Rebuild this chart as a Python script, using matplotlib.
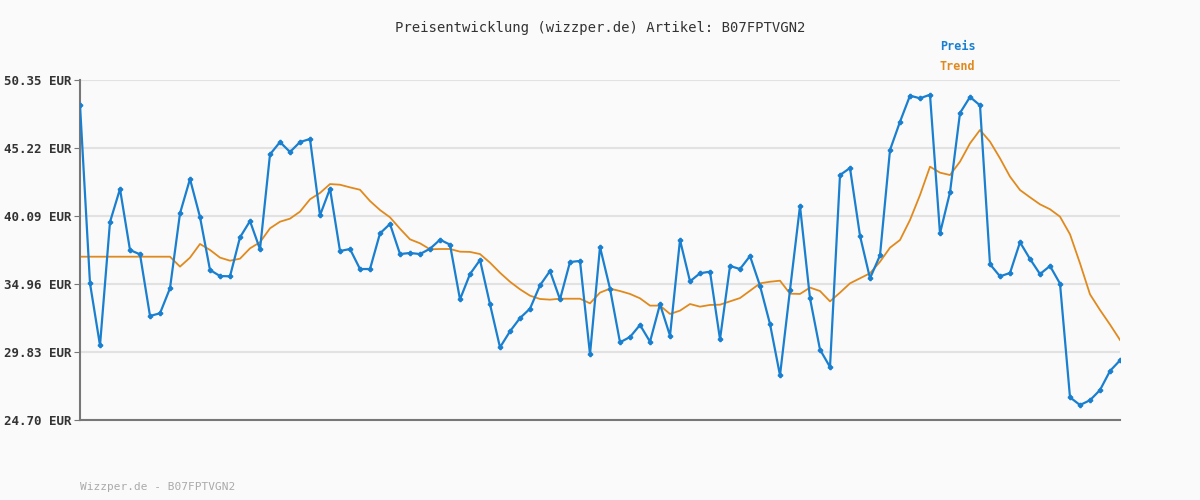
import matplotlib
matplotlib.use("Agg")
import matplotlib.pyplot as plt
import numpy as np

preis = [48.46,35.01,30.33,39.64,42.13,37.52,37.20,32.55,32.75,34.64,40.29,42.88,40.01,36.02,35.56,35.54,
         38.48,39.71,37.58,44.74,45.67,44.92,45.67,45.90,40.14,42.15,37.45,37.60,36.09,36.09,38.78,39.49,
         37.22,37.30,37.22,37.62,38.30,37.93,33.80,35.71,36.77,33.43,30.18,31.39,32.39,33.10,34.86,35.94,
         33.80,36.62,36.70,29.66,37.75,34.61,30.56,30.96,31.87,30.61,33.43,31.06,38.28,35.16,35.77,35.89,
         30.79,36.32,36.09,37.07,34.83,31.94,28.07,34.51,40.84,33.88,30.01,28.70,43.18,43.71,38.60,35.39,
         37.12,45.07,47.20,49.17,48.97,49.24,38.78,41.88,47.86,49.07,48.44,36.45,35.54,35.79,38.11,36.85,
         35.71,36.32,34.99,26.41,25.83,26.19,26.96,28.40,29.20]
trend = [37.02]*10 + [36.27,36.95,37.98,37.53,36.95,36.72,36.87,37.65,38.11,39.16,39.66,39.89,40.42,41.35,
         41.83,42.50,42.45,42.25,42.07,41.22,40.54,39.99,39.13,38.33,38.03,37.58,37.60,37.60,37.40,37.38,
         37.22,36.57,35.81,35.13,34.56,34.08,33.83,33.78,33.85,33.85,33.85,33.50,34.31,34.61,34.43,34.21,
         33.88,33.33,33.33,32.70,32.95,33.45,33.25,33.38,33.40,33.65,33.90,34.45,35.01,35.13,35.21,34.23,34.21,
         34.69,34.43,33.65,34.31,35.01,35.39,35.77,36.64,37.70,38.28,39.79,41.67,43.81,43.36,43.18,44.19,
         45.57,46.58,45.70,44.44,43.06,42.05,41.50,40.97,40.60,40.04,38.71,36.52,34.18,33.00,31.90,30.74]
yticks = [24.70, 29.83, 34.96, 40.09, 45.22, 50.35]
title = "Preisentwicklung (wizzper.de) Artikel: B07FPTVGN2"
footer = "Wizzper.de - B07FPTVGN2"

plt.rcParams['font.family'] = ['DejaVu Sans Mono']
fig = plt.figure(figsize=(12, 5), dpi=100, facecolor='#fafafa')
ax = fig.add_axes([80/1200, 80/500, 1040/1200, 340/500])
ax.set_facecolor('#fafafa')
x = np.arange(len(preis))
ax.plot(np.arange(len(trend)), trend, color='#e08a1e', lw=1.3, zorder=2)
ax.plot(x, preis, color='#1a7fcf', lw=1.6, marker='P', ms=3, zorder=3)
ax.set_xlim(0, len(preis) - 1)
ax.set_ylim(24.70, 50.35)
ax.set_yticks(yticks)
ax.set_yticklabels([f"{v:.2f} EUR" for v in yticks], fontsize=9, fontweight='bold', color='#333333')
ax.set_xticks([])
ax.grid(axis='y', color='#e2e2e2', lw=1.5)
ax.set_axisbelow(True)
for s in ['top', 'right']:
    ax.spines[s].set_visible(False)
for s in ['left', 'bottom']:
    ax.spines[s].set_color('#777777')
    ax.spines[s].set_linewidth(1.5)
ax.tick_params(axis='y', length=4, color='#777777', pad=2)
fig.text(0.5, 1 - 28/500, title, ha='center', va='center', fontsize=10, color='#333333')
fig.text(940/1200, 1 - 47/500, "Preis", ha='left', va='center', fontsize=8.5, fontweight='bold', color='#1a7fcf')
fig.text(940/1200, 1 - 67/500, "Trend", ha='left', va='center', fontsize=8.5, fontweight='bold', color='#e08a1e')
fig.text(80/1200, 1 - 487/500, footer, ha='left', va='center', fontsize=8, color='#aaaaaa')
fig.savefig('out.png', facecolor=fig.get_facecolor())
